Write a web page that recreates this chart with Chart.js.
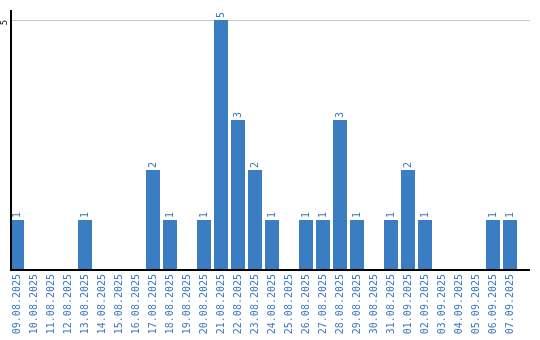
<!DOCTYPE html>
<html>
<head>
<meta charset="utf-8">
<script src="https://cdn.jsdelivr.net/npm/chart.js@4"></script>
<style>
  html, body { margin: 0; padding: 0; background: #fff; }
  #wrap { width: 540px; height: 340px; }
</style>
</head>
<body>
<div id="wrap"><canvas id="chart" width="540" height="340"></canvas></div>
<script>
// Data
const days = ['09.08.2025', '10.08.2025', '11.08.2025', '12.08.2025', '13.08.2025', '14.08.2025',
  '15.08.2025', '16.08.2025', '17.08.2025', '18.08.2025', '19.08.2025', '20.08.2025',
  '21.08.2025', '22.08.2025', '23.08.2025', '24.08.2025', '25.08.2025', '26.08.2025',
  '27.08.2025', '28.08.2025', '29.08.2025', '30.08.2025', '31.08.2025', '01.09.2025',
  '02.09.2025', '03.09.2025', '04.09.2025', '05.09.2025', '06.09.2025', '07.09.2025'];
const counts = [1, 0, 0, 0, 1, 0, 0, 0, 2, 1, 0, 1, 5, 3, 2, 1, 0, 1, 1, 3, 1, 0, 1, 2, 1, 0, 0, 0, 1, 1];
const yTicks = [5];

const blue = '#3b7dc3';
const labelBlue = '#3a78c0';
const font = '"DejaVu Sans Mono"';

// axes, gridline and value labels drawn by hand
const decorations = {
  id: 'decorations',
  beforeDatasetsDraw(chart) {
    const { ctx, scales } = chart;
    const y = scales.y;
    ctx.save();
    ctx.strokeStyle = '#c8c8c8';
    ctx.lineWidth = 1;
    yTicks.forEach(v => {
      const py = Math.round(y.getPixelForValue(v)) + 0.5;
      ctx.beginPath();
      ctx.moveTo(10, py);
      ctx.lineTo(530, py);
      ctx.stroke();
      ctx.save();
      ctx.translate(5, py + 2);
      ctx.rotate(-Math.PI / 2);
      ctx.fillStyle = '#111';
      ctx.font = '9px ' + font;
      ctx.textAlign = 'center';
      ctx.textBaseline = 'middle';
      ctx.fillText(String(v), 0, 0);
      ctx.restore();
    });
    ctx.restore();
  },
  afterDatasetsDraw(chart) {
    const { ctx, scales } = chart;
    const meta = chart.getDatasetMeta(0);
    ctx.save();
    ctx.fillStyle = labelBlue;
    ctx.font = '10px ' + font;
    ctx.textAlign = 'left';
    ctx.textBaseline = 'middle';
    meta.data.forEach((bar, i) => {
      if (!counts[i]) return;
      ctx.save();
      ctx.translate(bar.x, bar.y - 2);
      ctx.rotate(-Math.PI / 2);
      ctx.fillText(String(counts[i]), 0, 0);
      ctx.restore();
    });
    // axis lines
    const base = Math.round(scales.y.getPixelForValue(0));
    ctx.fillStyle = '#000';
    ctx.fillRect(10, 10, 2, base - 10 + 1);
    ctx.fillRect(10, base - 1, 520, 2);
    ctx.restore();
  }
};

const ctx = document.getElementById('chart').getContext('2d');
new Chart(ctx, {
  type: 'bar',
  data: {
    labels: days,
    datasets: [{
      data: counts,
      backgroundColor: blue,
      borderWidth: 0,
      barPercentage: 14 / 17,
      categoryPercentage: 1
    }]
  },
  options: {
    responsive: false,
    animation: false,
    layout: { padding: { top: 10, right: 21.5, left: 0, bottom: 0 } },
    plugins: { legend: { display: false }, tooltip: { enabled: false } },
    scales: {
      x: {
        grid: { display: false, drawTicks: false },
        border: { display: false },
        ticks: {
          color: labelBlue,
          font: { family: 'DejaVu Sans Mono', size: 10 },
          minRotation: 90,
          maxRotation: 90,
          padding: 4,
          autoSkip: false
        },
        afterFit(s) { s.height = 70; }
      },
      y: {
        min: 0,
        max: 5.2,
        grid: { display: false, drawTicks: false },
        border: { display: false },
        ticks: { display: false },
        afterFit(s) { s.width = 8.5; }
      }
    }
  },
  plugins: [decorations]
});
</script>
</body>
</html>
